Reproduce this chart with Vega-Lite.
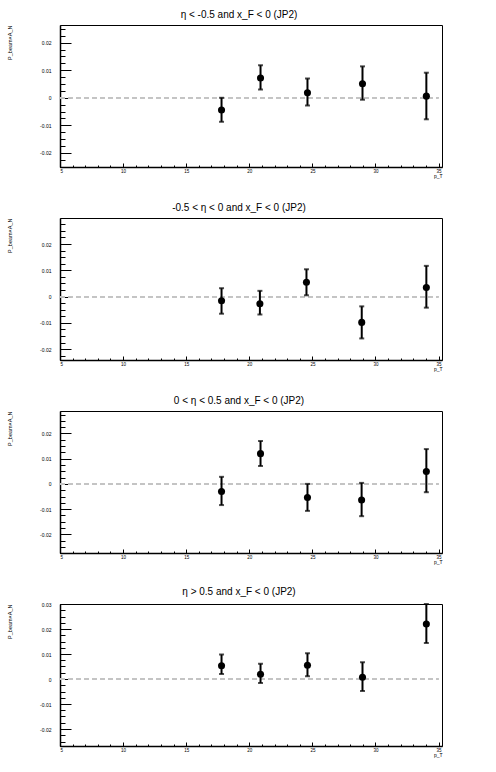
{
  "$schema": "https://vega.github.io/schema/vega-lite/v6.json",
  "background": "white",
  "padding": {"left": 7, "top": 9, "right": 0, "bottom": 0},
  "config": {
    "font": "Liberation Sans",
    "view": {"stroke": "black", "strokeWidth": 1},
    "title": {"fontSize": 10, "fontWeight": "normal", "color": "black", "offset": 5, "anchor": "middle", "frame": "group", "dx": -12},
    "axis": {"grid": false, "labelColor": "black", "titleColor": "black"}
  },
  "bounds": "flush",
  "spacing": 51,
  "datasets": {
    "p1": [
      {"pt": 17.80, "val": -0.0044, "lo": -0.0087, "hi": 0.0000},
      {"pt": 20.89, "val": 0.0072, "lo": 0.0030, "hi": 0.0118},
      {"pt": 24.61, "val": 0.0018, "lo": -0.0028, "hi": 0.0070},
      {"pt": 28.97, "val": 0.0051, "lo": -0.0007, "hi": 0.0114},
      {"pt": 34.03, "val": 0.0006, "lo": -0.0078, "hi": 0.0091}
    ],
    "p2": [
      {"pt": 17.80, "val": -0.0016, "lo": -0.0065, "hi": 0.0032},
      {"pt": 20.84, "val": -0.0027, "lo": -0.0068, "hi": 0.0022},
      {"pt": 24.53, "val": 0.0055, "lo": 0.0005, "hi": 0.0104},
      {"pt": 28.91, "val": -0.0098, "lo": -0.0159, "hi": -0.0037},
      {"pt": 34.03, "val": 0.0035, "lo": -0.0042, "hi": 0.0117}
    ],
    "p3": [
      {"pt": 17.80, "val": -0.0030, "lo": -0.0084, "hi": 0.0028},
      {"pt": 20.89, "val": 0.0120, "lo": 0.0071, "hi": 0.0170},
      {"pt": 24.61, "val": -0.0054, "lo": -0.0107, "hi": 0.0000},
      {"pt": 28.90, "val": -0.0064, "lo": -0.0128, "hi": 0.0004},
      {"pt": 34.03, "val": 0.0049, "lo": -0.0033, "hi": 0.0138}
    ],
    "p4": [
      {"pt": 17.80, "val": 0.0053, "lo": 0.0020, "hi": 0.0098},
      {"pt": 20.89, "val": 0.0019, "lo": -0.0016, "hi": 0.0061},
      {"pt": 24.61, "val": 0.0055, "lo": 0.0011, "hi": 0.0103},
      {"pt": 28.97, "val": 0.0007, "lo": -0.0048, "hi": 0.0067},
      {"pt": 34.03, "val": 0.0220, "lo": 0.0144, "hi": 0.0300}
    ]
  },
  "vconcat": [
    {
      "width": 382, "height": 142,
      "title": "η < -0.5 and x_F < 0 (JP2)",
      "data": {"name": "p1"},
      "resolve": {"axis": {"x": "independent", "y": "independent"}},
      "layer": [
        {
          "mark": {"type": "rule", "color": "#c4c4c4", "strokeWidth": 1.5, "strokeDash": [5, 3]},
          "encoding": {
            "x": {"datum": 5, "type": "quantitative", "scale": {"domain": [5, 35.27], "nice": false, "zero": false}, "axis": {"orient": "bottom", "values": [5,6,7,8,9,10,11,12,13,14,15,16,17,18,19,20,21,22,23,24,25,26,27,28,29,30,31,32,33,34,35], "labels": false, "domain": false, "tickSize": -2, "tickColor": "black", "title": null}},
            "x2": {"datum": 35},
            "y": {"datum": 0, "type": "quantitative", "scale": {"domain": [-0.0251, 0.0264], "nice": false, "zero": false}, "axis": {"orient": "left", "values": [-0.025,-0.0225,-0.02,-0.0175,-0.015,-0.0125,-0.01,-0.0075,-0.005,-0.0025,0,0.0025,0.005,0.0075,0.01,0.0125,0.015,0.0175,0.02,0.0225,0.025], "labels": false, "domain": false, "tickSize": -5, "tickColor": "black", "title": null}}
          }
        },
        {
          "mark": {"type": "errorbar", "ticks": {"size": 5, "thickness": 2, "color": "black"}, "rule": {"strokeWidth": 2, "color": "black"}},
          "encoding": {
            "x": {"field": "pt", "type": "quantitative", "axis": {"orient": "bottom", "values": [5,10,15,20,25,30,35], "ticks": false, "domain": true, "domainColor": "black", "domainWidth": 1.5, "labelFontSize": 4.5, "labelPadding": 1, "title": "p_T", "titleFontSize": 5, "titleFontWeight": "normal", "titleAnchor": "end", "titlePadding": 1}},
            "y": {"field": "lo", "type": "quantitative", "axis": {"orient": "left", "values": [-0.02,-0.01,0,0.01,0.02], "format": "~g", "labelExpr": "replace(datum.label, '−', '-')", "ticks": false, "domain": true, "domainColor": "black", "domainWidth": 1.5, "labelFontSize": 5, "labelPadding": 9, "title": "P_beam×A_N", "titleFontSize": 5.5, "titleFontWeight": "normal", "titleAnchor": "end", "titlePadding": 27}},
            "y2": {"field": "hi"}
          }
        },
        {
          "mark": {"type": "point", "filled": true, "shape": "circle", "size": 50, "color": "black", "opacity": 1},
          "encoding": {
            "x": {"field": "pt", "type": "quantitative", "axis": {"orient": "bottom", "values": [5,10,15,20,25,30,35], "labels": false, "domain": false, "tickSize": -4, "tickColor": "black", "title": null}},
            "y": {"field": "val", "type": "quantitative", "axis": {"orient": "left", "values": [-0.02,-0.01,0,0.01,0.02], "labels": false, "domain": false, "tickSize": -11, "tickColor": "black", "title": null}}
          }
        }
      ]
    },
    {
      "width": 382, "height": 142,
      "title": "-0.5 < η < 0 and x_F < 0 (JP2)",
      "data": {"name": "p2"},
      "resolve": {"axis": {"x": "independent", "y": "independent"}},
      "layer": [
        {
          "mark": {"type": "rule", "color": "#c4c4c4", "strokeWidth": 1.5, "strokeDash": [5, 3]},
          "encoding": {
            "x": {"datum": 5, "type": "quantitative", "scale": {"domain": [5, 35.27], "nice": false, "zero": false}, "axis": {"orient": "bottom", "values": [5,6,7,8,9,10,11,12,13,14,15,16,17,18,19,20,21,22,23,24,25,26,27,28,29,30,31,32,33,34,35], "labels": false, "domain": false, "tickSize": -2, "tickColor": "black", "title": null}},
            "x2": {"datum": 35},
            "y": {"datum": 0, "type": "quantitative", "scale": {"domain": [-0.0241, 0.0299], "nice": false, "zero": false}, "axis": {"orient": "left", "values": [-0.0225,-0.02,-0.0175,-0.015,-0.0125,-0.01,-0.0075,-0.005,-0.0025,0,0.0025,0.005,0.0075,0.01,0.0125,0.015,0.0175,0.02,0.0225,0.025,0.0275], "labels": false, "domain": false, "tickSize": -5, "tickColor": "black", "title": null}}
          }
        },
        {
          "mark": {"type": "errorbar", "ticks": {"size": 5, "thickness": 2, "color": "black"}, "rule": {"strokeWidth": 2, "color": "black"}},
          "encoding": {
            "x": {"field": "pt", "type": "quantitative", "axis": {"orient": "bottom", "values": [5,10,15,20,25,30,35], "ticks": false, "domain": true, "domainColor": "black", "domainWidth": 1.5, "labelFontSize": 4.5, "labelPadding": 1, "title": "p_T", "titleFontSize": 5, "titleFontWeight": "normal", "titleAnchor": "end", "titlePadding": 1}},
            "y": {"field": "lo", "type": "quantitative", "axis": {"orient": "left", "values": [-0.02,-0.01,0,0.01,0.02], "format": "~g", "labelExpr": "replace(datum.label, '−', '-')", "ticks": false, "domain": true, "domainColor": "black", "domainWidth": 1.5, "labelFontSize": 5, "labelPadding": 9, "title": "P_beam×A_N", "titleFontSize": 5.5, "titleFontWeight": "normal", "titleAnchor": "end", "titlePadding": 27}},
            "y2": {"field": "hi"}
          }
        },
        {
          "mark": {"type": "point", "filled": true, "shape": "circle", "size": 50, "color": "black", "opacity": 1},
          "encoding": {
            "x": {"field": "pt", "type": "quantitative", "axis": {"orient": "bottom", "values": [5,10,15,20,25,30,35], "labels": false, "domain": false, "tickSize": -4, "tickColor": "black", "title": null}},
            "y": {"field": "val", "type": "quantitative", "axis": {"orient": "left", "values": [-0.02,-0.01,0,0.01,0.02], "labels": false, "domain": false, "tickSize": -11, "tickColor": "black", "title": null}}
          }
        }
      ]
    },
    {
      "width": 382, "height": 142,
      "title": "0 < η < 0.5 and x_F < 0 (JP2)",
      "data": {"name": "p3"},
      "resolve": {"axis": {"x": "independent", "y": "independent"}},
      "layer": [
        {
          "mark": {"type": "rule", "color": "#c4c4c4", "strokeWidth": 1.5, "strokeDash": [5, 3]},
          "encoding": {
            "x": {"datum": 5, "type": "quantitative", "scale": {"domain": [5, 35.27], "nice": false, "zero": false}, "axis": {"orient": "bottom", "values": [5,6,7,8,9,10,11,12,13,14,15,16,17,18,19,20,21,22,23,24,25,26,27,28,29,30,31,32,33,34,35], "labels": false, "domain": false, "tickSize": -2, "tickColor": "black", "title": null}},
            "x2": {"datum": 35},
            "y": {"datum": 0, "type": "quantitative", "scale": {"domain": [-0.0274, 0.0289], "nice": false, "zero": false}, "axis": {"orient": "left", "values": [-0.025,-0.0225,-0.02,-0.0175,-0.015,-0.0125,-0.01,-0.0075,-0.005,-0.0025,0,0.0025,0.005,0.0075,0.01,0.0125,0.015,0.0175,0.02,0.0225,0.025,0.0275], "labels": false, "domain": false, "tickSize": -5, "tickColor": "black", "title": null}}
          }
        },
        {
          "mark": {"type": "errorbar", "ticks": {"size": 5, "thickness": 2, "color": "black"}, "rule": {"strokeWidth": 2, "color": "black"}},
          "encoding": {
            "x": {"field": "pt", "type": "quantitative", "axis": {"orient": "bottom", "values": [5,10,15,20,25,30,35], "ticks": false, "domain": true, "domainColor": "black", "domainWidth": 1.5, "labelFontSize": 4.5, "labelPadding": 1, "title": "p_T", "titleFontSize": 5, "titleFontWeight": "normal", "titleAnchor": "end", "titlePadding": 1}},
            "y": {"field": "lo", "type": "quantitative", "axis": {"orient": "left", "values": [-0.02,-0.01,0,0.01,0.02], "format": "~g", "labelExpr": "replace(datum.label, '−', '-')", "ticks": false, "domain": true, "domainColor": "black", "domainWidth": 1.5, "labelFontSize": 5, "labelPadding": 9, "title": "P_beam×A_N", "titleFontSize": 5.5, "titleFontWeight": "normal", "titleAnchor": "end", "titlePadding": 27}},
            "y2": {"field": "hi"}
          }
        },
        {
          "mark": {"type": "point", "filled": true, "shape": "circle", "size": 50, "color": "black", "opacity": 1},
          "encoding": {
            "x": {"field": "pt", "type": "quantitative", "axis": {"orient": "bottom", "values": [5,10,15,20,25,30,35], "labels": false, "domain": false, "tickSize": -4, "tickColor": "black", "title": null}},
            "y": {"field": "val", "type": "quantitative", "axis": {"orient": "left", "values": [-0.02,-0.01,0,0.01,0.02], "labels": false, "domain": false, "tickSize": -11, "tickColor": "black", "title": null}}
          }
        }
      ]
    },
    {
      "width": 382, "height": 142,
      "title": "η > 0.5 and x_F < 0 (JP2)",
      "data": {"name": "p4"},
      "resolve": {"axis": {"x": "independent", "y": "independent"}},
      "layer": [
        {
          "mark": {"type": "rule", "color": "#c4c4c4", "strokeWidth": 1.5, "strokeDash": [5, 3]},
          "encoding": {
            "x": {"datum": 5, "type": "quantitative", "scale": {"domain": [5, 35.27], "nice": false, "zero": false}, "axis": {"orient": "bottom", "values": [5,6,7,8,9,10,11,12,13,14,15,16,17,18,19,20,21,22,23,24,25,26,27,28,29,30,31,32,33,34,35], "labels": false, "domain": false, "tickSize": -2, "tickColor": "black", "title": null}},
            "x2": {"datum": 35},
            "y": {"datum": 0, "type": "quantitative", "scale": {"domain": [-0.0268, 0.0300], "nice": false, "zero": false}, "axis": {"orient": "left", "values": [-0.025,-0.0225,-0.02,-0.0175,-0.015,-0.0125,-0.01,-0.0075,-0.005,-0.0025,0,0.0025,0.005,0.0075,0.01,0.0125,0.015,0.0175,0.02,0.0225,0.025,0.0275,0.03], "labels": false, "domain": false, "tickSize": -5, "tickColor": "black", "title": null}}
          }
        },
        {
          "mark": {"type": "errorbar", "ticks": {"size": 5, "thickness": 2, "color": "black"}, "rule": {"strokeWidth": 2, "color": "black"}},
          "encoding": {
            "x": {"field": "pt", "type": "quantitative", "axis": {"orient": "bottom", "values": [5,10,15,20,25,30,35], "ticks": false, "domain": true, "domainColor": "black", "domainWidth": 1.5, "labelFontSize": 4.5, "labelPadding": 1, "title": "p_T", "titleFontSize": 5, "titleFontWeight": "normal", "titleAnchor": "end", "titlePadding": 1}},
            "y": {"field": "lo", "type": "quantitative", "axis": {"orient": "left", "values": [-0.02,-0.01,0,0.01,0.02,0.03], "format": "~g", "labelExpr": "replace(datum.label, '−', '-')", "ticks": false, "domain": true, "domainColor": "black", "domainWidth": 1.5, "labelFontSize": 5, "labelPadding": 9, "title": "P_beam×A_N", "titleFontSize": 5.5, "titleFontWeight": "normal", "titleAnchor": "end", "titlePadding": 27}},
            "y2": {"field": "hi"}
          }
        },
        {
          "mark": {"type": "point", "filled": true, "shape": "circle", "size": 50, "color": "black", "opacity": 1},
          "encoding": {
            "x": {"field": "pt", "type": "quantitative", "axis": {"orient": "bottom", "values": [5,10,15,20,25,30,35], "labels": false, "domain": false, "tickSize": -4, "tickColor": "black", "title": null}},
            "y": {"field": "val", "type": "quantitative", "axis": {"orient": "left", "values": [-0.02,-0.01,0,0.01,0.02,0.03], "labels": false, "domain": false, "tickSize": -11, "tickColor": "black", "title": null}}
          }
        }
      ]
    }
  ]
}
